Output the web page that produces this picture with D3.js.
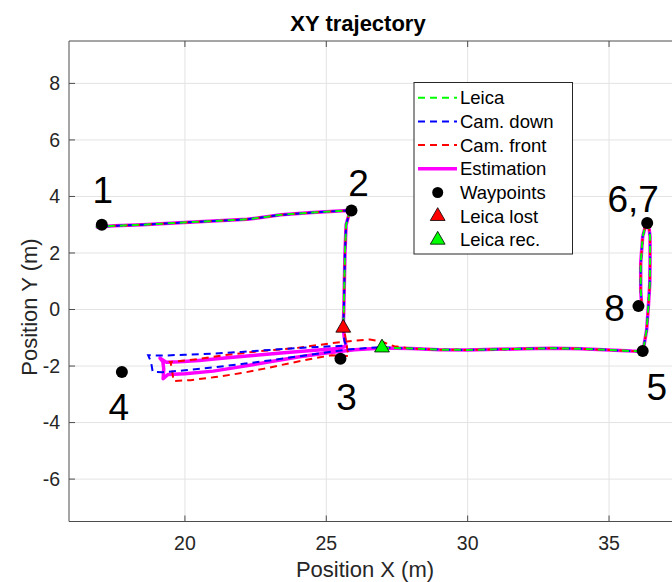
<!DOCTYPE html>
<html>
<head>
<meta charset="utf-8" />
<title>XY trajectory</title>
<script src="https://d3js.org/d3.v7.min.js"></script>
<style>
  body { margin: 0; background: #fff; }
  svg text { font-family: "Liberation Sans", Arial, Helvetica, sans-serif; fill: #262626; }
</style>
</head>
<body>
<div id="chart"></div>
<script>
// ---- data (metres) ----
const xTicks = [20, 25, 30, 35];
const yTicks = [-6, -4, -2, 0, 2, 4, 6, 8];

const estX = [16.85, 17.5, 18.5, 19.8, 21.0, 22.2, 23.4, 24.5, 25.3, 25.75, 25.80, 25.70, 25.66, 25.64, 25.62, 25.60, 25.63, 25.70,
  25.40, 24.6, 23.5, 22.5, 21.5, 20.5, 19.8, 19.35, 19.12, 19.22, 19.25, 19.23,
  19.4, 20.0, 21.0, 22.0, 23.0, 24.0, 25.0, 26.0, 27.0, 28.0, 29.0, 30.0, 31.0, 32.0, 33.0, 34.0, 35.0, 35.8, 36.2,
  36.33, 36.39, 36.44, 36.45, 36.45, 36.40, 36.30, 36.19, 36.12, 36.12, 36.15];
const estY = [2.92, 2.96, 3.00, 3.07, 3.13, 3.19, 3.35, 3.43, 3.48, 3.50, 3.35, 3.00, 2.00, 1.00, 0.00, -0.60, -0.95, -1.30,
  -1.38, -1.44, -1.53, -1.62, -1.71, -1.80, -1.85, -1.87, -1.72, -1.85, -2.10, -2.45,
  -2.30, -2.27, -2.18, -2.02, -1.85, -1.68, -1.54, -1.42, -1.36, -1.38, -1.42, -1.43, -1.41, -1.39, -1.37, -1.39, -1.43, -1.47, -1.48,
  -0.72, 0.10, 0.90, 1.63, 2.58, 3.00, 3.00, 2.58, 1.63, 0.69, 0.22];

// Leica: lost between the two triangles (NaN = gap)
const leicaX = [16.85, 17.5, 18.5, 19.8, 21.0, 22.2, 23.4, 24.5, 25.3, 25.75, 25.80, 25.70, 25.66, 25.64, 25.62, 25.60, NaN,
  26.97, 28.0, 29.0, 30.0, 31.0, 32.0, 33.0, 34.0, 35.0, 35.8, 36.2,
  36.33, 36.39, 36.44, 36.45, 36.45, 36.40, 36.30, 36.19, 36.12, 36.12, 36.15];
const leicaY = [2.92, 2.96, 3.00, 3.07, 3.13, 3.19, 3.35, 3.43, 3.48, 3.50, 3.35, 3.00, 2.00, 1.00, 0.00, -0.65, NaN,
  -1.35, -1.38, -1.42, -1.43, -1.41, -1.39, -1.37, -1.39, -1.43, -1.47, -1.48,
  -0.72, 0.10, 0.90, 1.63, 2.58, 3.00, 3.00, 2.58, 1.63, 0.69, 0.22];

const camDownX = [16.85, 17.5, 18.5, 19.8, 21.0, 22.2, 23.4, 24.5, 25.3, 25.75, 25.80, 25.70, 25.66, 25.64, 25.62, 25.60, 25.64, 25.70,
  25.0, 24.0, 23.0, 22.0, 21.0, 20.0, 19.2, 18.70, 18.80, 18.86,
  19.2, 20.0, 21.0, 22.0, 23.0, 24.0, 25.0, 25.7, 26.5, 27.0, 28.0, 29.0, 30.0, 31.0, 32.0, 33.0, 34.0, 35.0, 35.8, 36.2,
  36.33, 36.39, 36.44, 36.45, 36.45, 36.40, 36.30, 36.19, 36.12, 36.12, 36.15];
const camDownY = [2.92, 2.96, 3.00, 3.07, 3.13, 3.19, 3.35, 3.43, 3.48, 3.50, 3.35, 3.00, 2.00, 1.00, 0.00, -0.60, -1.10, -1.28,
  -1.31, -1.36, -1.43, -1.50, -1.56, -1.60, -1.63, -1.62, -1.85, -2.20,
  -2.22, -2.15, -2.05, -1.93, -1.80, -1.66, -1.52, -1.42, -1.36, -1.34, -1.38, -1.42, -1.43, -1.41, -1.39, -1.37, -1.39, -1.43, -1.47, -1.48,
  -0.72, 0.10, 0.90, 1.63, 2.58, 3.00, 3.00, 2.58, 1.63, 0.69, 0.22];

const camFrontX = [16.85, 17.5, 18.5, 19.8, 21.0, 22.2, 23.4, 24.5, 25.3, 25.75, 25.80, 25.70, 25.66, 25.64, 25.62, 25.62, 25.68, 25.75, 25.80,
  25.2, 24.66, 23.7, 22.77, 22.0, 21.0, 20.2, 19.6, 19.55, 19.5, 19.47,
  20.5, 21.59, 22.8, 23.95, 25.13, 26.0, 26.54, 27.0, 27.4, 28.0, 29.0, 30.0, 31.0, 32.0, 33.0, 34.0, 35.0, 35.8, 36.2,
  36.33, 36.39, 36.44, 36.45, 36.45, 36.40, 36.30, 36.19, 36.12, 36.12, 36.15];
const camFrontY = [2.92, 2.96, 3.00, 3.07, 3.13, 3.19, 3.35, 3.43, 3.48, 3.50, 3.35, 3.00, 2.00, 1.00, 0.00, -0.60, -1.00, -1.45, -1.65,
  -1.62, -1.71, -1.90, -2.10, -2.25, -2.40, -2.50, -2.53, -2.20, -1.90, -1.86,
  -1.75, -1.59, -1.46, -1.36, -1.20, -1.10, -1.06, -1.15, -1.30, -1.38, -1.42, -1.43, -1.41, -1.39, -1.37, -1.39, -1.43, -1.47, -1.48,
  -0.72, 0.10, 0.90, 1.63, 2.58, 3.00, 3.00, 2.58, 1.63, 0.69, 0.22];

const wpX = [17.06, 25.89, 25.50, 17.77, 36.19, 36.35, 36.04];
const wpY = [3.00, 3.50, -1.74, -2.21, -1.47, 3.06, 0.12];
const wpLabels = ["1", "2", "3", "4", "5", "6,7", "8"];

const lostX = [25.60], lostY = [-0.65];
const recX = [26.97], recY = [-1.35];

const legendLabels = ["Leica", "Cam. down", "Cam. front", "Estimation", "Waypoints", "Leica lost", "Leica rec."];

// ---- layout ----
const W = 672, H = 582;
const mL = 69, mT = 41, mB = 521.5, mR = 708;

const x = d3.scaleLinear().domain([15.9, 38.5]).range([mL, mR]);
const y = d3.scaleLinear().domain([-7.5, 9.5]).range([mB, mT]);

const svg = d3.select("#chart").append("svg")
  .attr("width", W).attr("height", H);

svg.append("defs").append("clipPath").attr("id", "clip")
  .append("rect").attr("x", mL).attr("y", mT)
  .attr("width", mR - mL).attr("height", mB - mT);

// grid
const grid = svg.append("g").attr("clip-path", "url(#clip)");
grid.selectAll(".gx").data(xTicks).enter().append("line")
  .attr("x1", d => x(d)).attr("x2", d => x(d))
  .attr("y1", mT).attr("y2", mB)
  .attr("stroke", "#e3e3e3").attr("stroke-width", 1);
grid.selectAll(".gy").data(yTicks).enter().append("line")
  .attr("x1", mL).attr("x2", mR)
  .attr("y1", d => y(d)).attr("y2", d => y(d))
  .attr("stroke", "#e3e3e3").attr("stroke-width", 1);

// series
const toPts = (xs, ys) => xs.map((v, i) => [v, ys[i]]);
const line = d3.line()
  .defined(d => !isNaN(d[0]))
  .x(d => x(d[0])).y(d => y(d[1]));

const plot = svg.append("g").attr("clip-path", "url(#clip)");
plot.append("path").attr("d", line(toPts(estX, estY)))
  .attr("fill", "none").attr("stroke", "#ff00ff").attr("stroke-width", 3.5)
  .attr("stroke-linejoin", "round");
plot.append("path").attr("d", line(toPts(camFrontX, camFrontY)))
  .attr("fill", "none").attr("stroke", "#ff0000").attr("stroke-width", 2)
  .attr("stroke-dasharray", "7,5").attr("stroke-dashoffset", 8);
plot.append("path").attr("d", line(toPts(camDownX, camDownY)))
  .attr("fill", "none").attr("stroke", "#0000ff").attr("stroke-width", 2)
  .attr("stroke-dasharray", "7,5").attr("stroke-dashoffset", 4);
plot.append("path").attr("d", line(toPts(leicaX, leicaY)))
  .attr("fill", "none").attr("stroke", "#00ff00").attr("stroke-width", 2)
  .attr("stroke-dasharray", "7,5");

// markers
const tri = d3.symbol().type(d3.symbolTriangle).size(95);
plot.selectAll(".wp").data(toPts(wpX, wpY)).enter().append("circle")
  .attr("cx", d => x(d[0])).attr("cy", d => y(d[1])).attr("r", 6)
  .attr("fill", "#000");
plot.selectAll(".lost").data(toPts(lostX, lostY)).enter().append("path")
  .attr("d", tri).attr("transform", d => `translate(${x(d[0])},${y(d[1])})`)
  .attr("fill", "#ff0000").attr("stroke", "#000").attr("stroke-width", 0.8);
plot.selectAll(".rec").data(toPts(recX, recY)).enter().append("path")
  .attr("d", tri).attr("transform", d => `translate(${x(d[0])},${y(d[1])})`)
  .attr("fill", "#00ff00").attr("stroke", "#000").attr("stroke-width", 0.8);

// waypoint labels (pixel offsets from the marker)
const labelOffsets = [[1, -22], [7, -15], [6, 51], [-3, 48], [14, 49], [-14, -11], [-24, 15]];
svg.append("g").selectAll("text").data(wpLabels).enter().append("text")
  .attr("x", (d, i) => x(wpX[i]) + labelOffsets[i][0])
  .attr("y", (d, i) => y(wpY[i]) + labelOffsets[i][1])
  .attr("text-anchor", "middle")
  .style("font-size", "37px").style("fill", "#000")
  .text(d => d);

// axes
const ax = svg.append("g").attr("stroke", "#4d4d4d").attr("stroke-width", 1).attr("fill", "none");
ax.append("line").attr("x1", mL).attr("x2", W).attr("y1", mT).attr("y2", mT);
ax.append("line").attr("x1", mL).attr("x2", W).attr("y1", mB).attr("y2", mB);
ax.append("line").attr("x1", mL).attr("x2", mL).attr("y1", mT).attr("y2", mB);
xTicks.forEach(t => {
  ax.append("line").attr("x1", x(t)).attr("x2", x(t)).attr("y1", mB).attr("y2", mB - 6);
  ax.append("line").attr("x1", x(t)).attr("x2", x(t)).attr("y1", mT).attr("y2", mT + 6);
});
yTicks.forEach(t => {
  ax.append("line").attr("x1", mL).attr("x2", mL + 6).attr("y1", y(t)).attr("y2", y(t));
});

svg.append("g").selectAll("text").data(xTicks).enter().append("text")
  .attr("x", d => x(d)).attr("y", mB + 28)
  .attr("text-anchor", "middle").style("font-size", "19.5px")
  .text(d => d);
svg.append("g").selectAll("text").data(yTicks).enter().append("text")
  .attr("x", mL - 9).attr("y", d => y(d)).attr("dy", "0.35em")
  .attr("text-anchor", "end").style("font-size", "19.5px")
  .text(d => d);

svg.append("text").attr("x", 365).attr("y", 577)
  .attr("text-anchor", "middle").style("font-size", "22px")
  .text("Position X (m)");
svg.append("text").attr("transform", "translate(37,307) rotate(-90)")
  .attr("text-anchor", "middle").style("font-size", "22px")
  .text("Position Y (m)");
svg.append("text").attr("x", 358).attr("y", 31)
  .attr("text-anchor", "middle").style("font-size", "22px").style("font-weight", "bold")
  .style("fill", "#000")
  .text("XY trajectory");

// legend
const lg = svg.append("g");
lg.append("rect").attr("x", 414).attr("y", 82.5).attr("width", 158.5).attr("height", 171.5)
  .attr("fill", "#fff").attr("stroke", "#262626").attr("stroke-width", 1);
const rowY = i => 97.7 + i * 23.7;
const legendStyle = [
  { stroke: "#00ff00", dash: "7,5", w: 2 },
  { stroke: "#0000ff", dash: "7,5", w: 2 },
  { stroke: "#ff0000", dash: "7,5", w: 2 },
  { stroke: "#ff00ff", dash: null, w: 3.5 }
];
legendStyle.forEach((s, i) => {
  lg.append("line").attr("x1", 418).attr("x2", 457).attr("y1", rowY(i)).attr("y2", rowY(i))
    .attr("stroke", s.stroke).attr("stroke-width", s.w)
    .attr("stroke-dasharray", s.dash);
});
lg.append("circle").attr("cx", 437.7).attr("cy", rowY(4)).attr("r", 5.5).attr("fill", "#000");
lg.append("path").attr("d", tri).attr("transform", `translate(437.7,${rowY(5)})`)
  .attr("fill", "#ff0000").attr("stroke", "#000").attr("stroke-width", 0.8);
lg.append("path").attr("d", tri).attr("transform", `translate(437.7,${rowY(6)})`)
  .attr("fill", "#00ff00").attr("stroke", "#000").attr("stroke-width", 0.8);
lg.selectAll("text").data(legendLabels).enter().append("text")
  .attr("x", 460).attr("y", (d, i) => rowY(i)).attr("dy", "0.35em")
  .style("font-size", "18.5px").style("fill", "#000")
  .text(d => d);
</script>
</body>
</html>
